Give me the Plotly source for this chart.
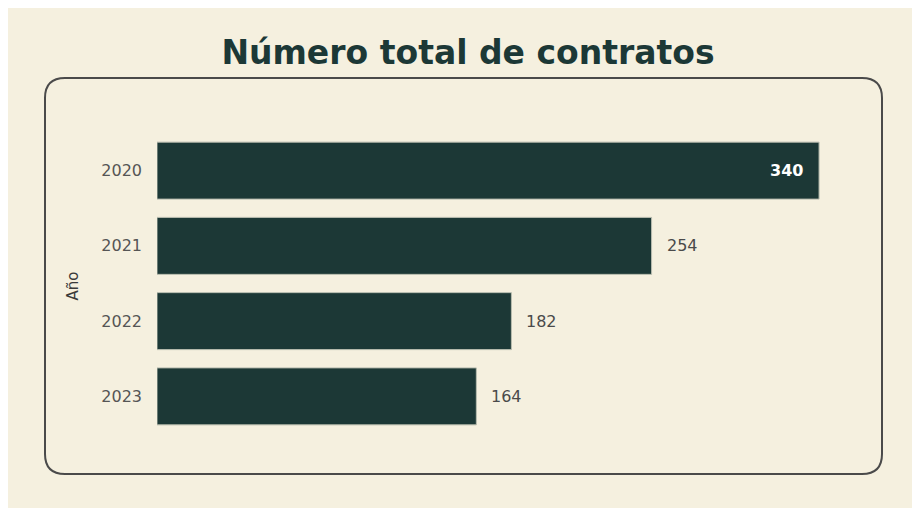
import plotly.graph_objects as go

years = ["2020", "2021", "2022", "2023"]
contracts = [340, 254, 182, 164]
title_text = "Número total de contratos"
y_title = "Año"

BG = "#F5F0DF"
BAR = "#1C3836"
FONT = "DejaVu Sans"

fig = go.Figure(go.Bar(
    x=contracts, y=years, orientation="h",
    marker=dict(color=BAR, line=dict(color="#B9BDB0", width=1)),
    hoverinfo="skip",
))

annotations = []
for i, v in enumerate(contracts):
    if i == 0:
        annotations.append(dict(x=v, y=i, xref="x", yref="y", text=f"<b>{v}</b>",
                                showarrow=False, xanchor="right", xshift=-14,
                                font=dict(color="white", size=16, family=FONT)))
    else:
        annotations.append(dict(x=v, y=i, xref="x", yref="y", text=str(v),
                                showarrow=False, xanchor="left", xshift=13,
                                font=dict(color="#4A4A4A", size=16, family=FONT)))

annotations.append(dict(x=-84 / 701, y=0.49, xref="paper", yref="paper", text=y_title,
                        showarrow=False, textangle=-90, xanchor="center", yanchor="middle",
                        font=dict(color="#3A3A3A", size=15, family=FONT)))

# rounded frame in pixels relative to plot-area bottom-left
x0, x1, y0, y1, r = -112, 725, -40, 356, 20
path = (f"M {x0+r},{y0} L {x1-r},{y0} Q {x1},{y0} {x1},{y0+r} "
        f"L {x1},{y1-r} Q {x1},{y1} {x1-r},{y1} L {x0+r},{y1} "
        f"Q {x0},{y1} {x0},{y1-r} L {x0},{y0+r} Q {x0},{y0} {x0+r},{y0} Z")

fig.update_layout(
    width=920, height=508,
    paper_bgcolor=BG, plot_bgcolor=BG,
    margin=dict(l=149, r=70, t=125, b=82),
    bargap=0.243,
    title=dict(text=f"<b>{title_text}</b>", x=0.5, xanchor="center",
               y=1 - 44 / 508, yanchor="middle", yref="container",
               font=dict(family=FONT, size=33, color=BAR)),
    xaxis=dict(range=[0, 360], visible=False, fixedrange=True),
    yaxis=dict(type="category", categoryorder="array", categoryarray=years,
               range=[3.5, -0.5], autorange=False,
               showgrid=False, zeroline=False, showline=False,
               ticks="", ticklabelstandoff=14,
               tickfont=dict(family=FONT, size=16, color="#555555")),
    annotations=annotations,
    showlegend=False,
)
fig.add_shape(type="path", xref="paper", yref="paper",
              xsizemode="pixel", ysizemode="pixel", xanchor=0, yanchor=0,
              path=path, line=dict(color="#4A4A4A", width=2), layer="below")

fig.write_html("out.html")
